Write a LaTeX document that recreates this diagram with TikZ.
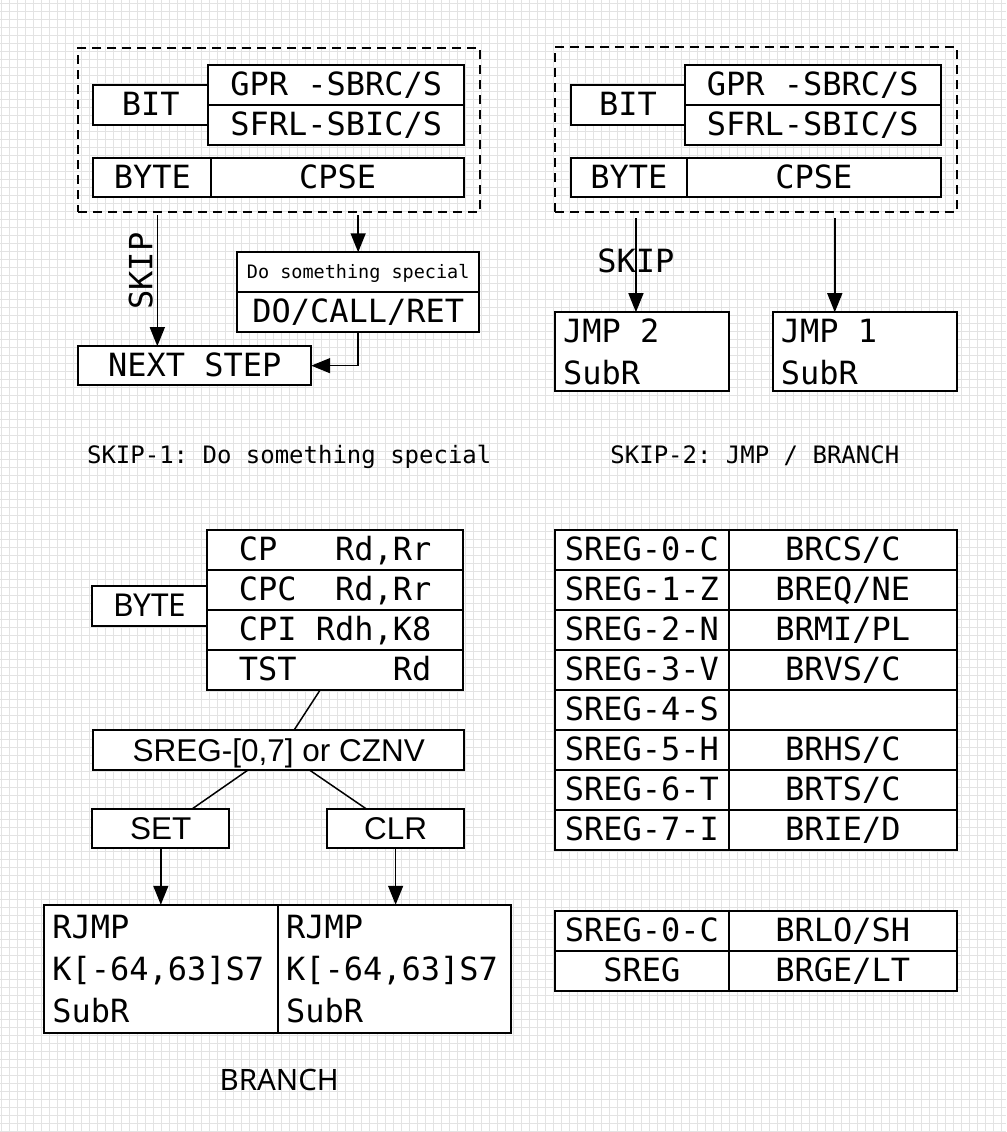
\documentclass[tikz,border=0pt]{standalone}
\usepackage{fontspec}
\setmonofont{DejaVu Sans Mono}
\newfontfamily\helvfont{Liberation Sans}
\newfontfamily\humfont{Noto Sans}
\usepackage{tikz}
\usetikzlibrary{arrows.meta,positioning}
\definecolor{gridgray}{HTML}{E3E3E3}

\begin{document}
\begin{tikzpicture}[
  x=1pt, y=-1pt,
  >={Triangle[length=19pt,width=15pt]},
  cell/.style={draw, fill=white, line width=2.1pt, inner sep=0pt, outer sep=0pt, anchor=north west,
               text height=23pt, text depth=2pt, font=\ttfamily\fontsize{32}{42}\selectfont},
  sanscell/.style={cell, text height=22.6pt, text depth=0pt, font=\helvfont\fontsize{31.5}{38}\selectfont},
  textbox/.style={cell, align=left, inner xsep=8pt, text height=, text depth=},
  regcell/.style={cell, minimum width=174pt, minimum height=40pt},
  brcell/.style={cell, minimum width=228pt, minimum height=40pt},
  groupbox/.style={draw, dash pattern=on 9pt off 6pt, line width=2.1pt, inner sep=0pt, outer sep=0pt, anchor=north west},
  arrow/.style={->, line width=1.5pt},
  link/.style={line width=1.5pt},
  caption/.style={anchor=base, inner sep=0pt, font=\ttfamily\fontsize{24}{28}\selectfont},
  gridline/.style={draw=gridgray, line width=0.9pt}
]
% BACKGROUND GRID
\fill[white] (0,0) rectangle (1006,1132);
\foreach \gx in {1.5,9.5,...,1006} \draw[gridline] (\gx,0) -- (\gx,1132);
\foreach \gy in {3.5,11.5,...,1132} \draw[gridline] (0,\gy) -- (1006,\gy);
\useasboundingbox (0,0) rectangle (1006,1132);

% SKIP-1
\node[groupbox, minimum width=402pt, minimum height=164pt] (grpA) at (78,48) {};
\node[cell, minimum width=115pt, minimum height=40pt] (bitA) at (93,85) {BIT};
\node[cell, minimum width=256pt, minimum height=40pt] (gprA) at (208,65) {GPR -SBRC/S};
\node[cell, minimum width=256pt, minimum height=40pt, below=0pt of gprA] (sfrlA) {SFRL-SBIC/S};
\node[cell, minimum width=118pt, minimum height=39pt] (byteA) at (93,158) {BYTE};
\node[cell, minimum width=253pt, minimum height=39pt, right=0pt of byteA] (cpseA) {CPSE};

\node[cell, minimum width=242pt, minimum height=40pt, text height=13.5pt, text depth=0pt,
      font=\ttfamily\fontsize{18.5}{22}\selectfont] (special) at (237,252) {Do something special};
\node[cell, minimum width=242pt, minimum height=40pt, below=0pt of special] (call) {DO/CALL/RET};
\node[cell, minimum width=233pt, minimum height=39pt] (next) at (78,346) {NEXT STEP};

\coordinate (skipA) at (157,215);
\node[rotate=90, anchor=base, inner sep=0pt, font=\ttfamily\fontsize{32}{38}\selectfont] (skiplabA) at (152,271) {SKIP};

\draw[arrow] (skipA) -- (skipA |- next.north);
\draw[arrow] ([yshift=-3pt]special.north |- grpA.south) -- (special.north);
\draw[arrow] (call.south) |- (next.east);

\node[caption] (capA) at (289,463) {SKIP-1: Do something special};

% SKIP-2
\node[groupbox, minimum width=402pt, minimum height=165pt] (grpB) at (555,47) {};
\node[cell, minimum width=114pt, minimum height=40pt] (bitB) at (571,85) {BIT};
\node[cell, minimum width=256pt, minimum height=40pt] (gprB) at (685,65) {GPR -SBRC/S};
\node[cell, minimum width=256pt, minimum height=40pt, below=0pt of gprB] (sfrlB) {SFRL-SBIC/S};
\node[cell, minimum width=116pt, minimum height=39pt] (byteB) at (571,158) {BYTE};
\node[cell, minimum width=254pt, minimum height=39pt, right=0pt of byteB] (cpseB) {CPSE};

\node[textbox, text width=158pt, minimum height=79pt] (jmpTwo) at (555,312) {JMP\hphantom{0}2\\SubR};
\node[textbox, text width=168pt, minimum height=79pt] (jmpOne) at (773,312) {JMP\hphantom{0}1\\SubR};

\coordinate (skipB) at (636,218);
\coordinate (jumpB) at (835,218);
\draw[arrow] (skipB) -- node[pos=0.574, anchor=base, inner sep=0pt, font=\ttfamily\fontsize{32}{38}\selectfont]{SKIP} (skipB |- jmpTwo.north);
\draw[arrow] (jumpB) -- (jumpB |- jmpOne.north);

\node[caption] (capB) at (755,463) {SKIP-2: JMP / BRANCH};

% BRANCH
\node[cell, minimum width=256pt, minimum height=40pt] (cp) at (207,530) {CP\ \ \ Rd,Rr};
\node[cell, minimum width=256pt, minimum height=40pt, below=0pt of cp]  (cpc) {CPC\ \ Rd,Rr};
\node[cell, minimum width=256pt, minimum height=40pt, below=0pt of cpc] (cpi) {CPI Rdh,K8};
\node[cell, minimum width=256pt, minimum height=40pt, below=0pt of cpi] (tst) {TST\ \ \ \ \ Rd};
\node[cell, minimum width=115pt, minimum height=40pt, text height=22.5pt, text depth=1pt,
      font=\humfont\fontsize{31.5}{36}\selectfont] (byteC) at (92,586) {BYTE};

\node[sanscell, minimum width=371pt, minimum height=40pt] (sreg) at (93,730) {SREG-[0,7] or CZNV};
\node[sanscell, minimum width=137pt, minimum height=39pt] (set) at (92,809) {SET};
\node[sanscell, minimum width=137pt, minimum height=39pt] (clr) at (327,809) {CLR};

\node[textbox, text width=218pt, minimum height=128pt] (rjmpA) at (44,905) {RJMP\\K[-64,63]S7\\SubR};
\node[textbox, text width=217pt, minimum height=128pt] (rjmpB) at (278,905) {RJMP\\K[-64,63]S7\\SubR};

\draw[link] ([xshift=-15pt]tst.south) -- ([xshift=15.5pt]sreg.north);
\draw[link] ([xshift=-30.5pt]sreg.south) -- ([xshift=31.5pt]set.north);
\draw[link] ([xshift=30.5pt]sreg.south) -- ([xshift=-29.5pt]clr.north);
\draw[arrow] (set.south) -- (set.south |- rjmpA.north);
\draw[arrow] (clr.south) -- (clr.south |- rjmpB.north);

\node[anchor=base, inner sep=0pt, font=\humfont\fontsize{29.5}{34}\selectfont] (branch) at (279,1091) {BRANCH};

% SREG FLAGS
\node[regcell] (s0) at (555,530) {SREG-0-C};
\node[brcell, right=0pt of s0] (b0) {BRCS/C};
\node[regcell, below=0pt of s0] (s1) {SREG-1-Z};
\node[brcell, right=0pt of s1] (b1) {BREQ/NE};
\node[regcell, below=0pt of s1] (s2) {SREG-2-N};
\node[brcell, right=0pt of s2] (b2) {BRMI/PL};
\node[regcell, below=0pt of s2] (s3) {SREG-3-V};
\node[brcell, right=0pt of s3] (b3) {BRVS/C};
\node[regcell, below=0pt of s3] (s4) {SREG-4-S};
\node[brcell, right=0pt of s4] (b4) {};
\node[regcell, below=0pt of s4] (s5) {SREG-5-H};
\node[brcell, right=0pt of s5] (b5) {BRHS/C};
\node[regcell, below=0pt of s5] (s6) {SREG-6-T};
\node[brcell, right=0pt of s6] (b6) {BRTS/C};
\node[regcell, below=0pt of s6] (s7) {SREG-7-I};
\node[brcell, right=0pt of s7] (b7) {BRIE/D};

\node[regcell] (t0) at (555,911) {SREG-0-C};
\node[brcell, right=0pt of t0] (u0) {BRLO/SH};
\node[regcell, below=0pt of t0] (t1) {SREG};
\node[brcell, right=0pt of t1] (u1) {BRGE/LT};
\end{tikzpicture}
\end{document}
